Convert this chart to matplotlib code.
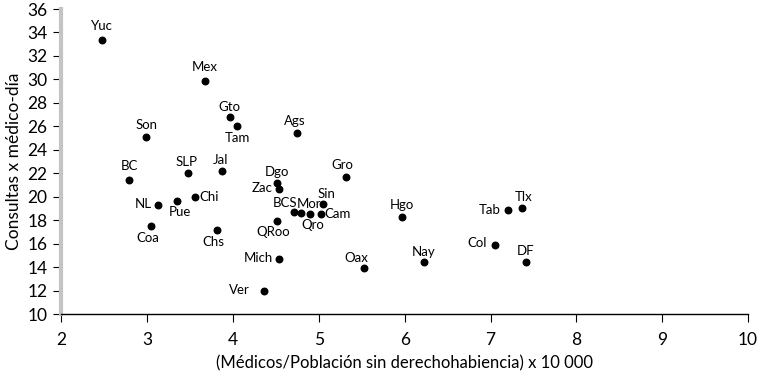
import matplotlib.pyplot as plt

plt.rcParams['font.family'] = ['Lato', 'DejaVu Sans']

# estados
estados = ['Yuc', 'Mex', 'Gto', 'Tam', 'Son', 'Ags', 'BC', 'SLP', 'Jal', 'Chi',
           'Pue', 'NL', 'Coa', 'Chs', 'Dgo', 'Zac', 'BCS', 'Mor', 'Qro', 'Sin',
           'Cam', 'QRoo', 'Mich', 'Gro', 'Oax', 'Ver', 'Hgo', 'Tab', 'Tlx',
           'Col', 'Nay', 'DF']
medicos = [2.47, 3.67, 3.96, 4.04, 2.99, 4.75, 2.79, 3.48, 3.87, 3.55,
           3.35, 3.12, 3.04, 3.81, 4.51, 4.54, 4.71, 4.79, 4.90, 5.05,
           5.03, 4.51, 4.54, 5.31, 5.52, 4.36, 5.97, 7.20, 7.37,
           7.05, 6.22, 7.41]
consultas = [33.4, 29.9, 26.8, 26.0, 25.1, 25.4, 21.45, 22.0, 22.15, 20.0,
             19.65, 19.3, 17.5, 17.15, 21.15, 20.65, 18.7, 18.65, 18.5, 19.35,
             18.5, 17.95, 14.7, 21.7, 13.95, 11.95, 18.3, 18.85, 19.05,
             15.9, 14.4, 14.4]

# posición de la etiqueta (dx, dy en pixeles, alineación)
pos = {
    'Yuc': (0, 14, 'center'), 'Mex': (0, 14, 'center'), 'Gto': (0, 10, 'center'),
    'Tam': (1, -12, 'center'), 'Son': (0, 12, 'center'), 'Ags': (-3, 12, 'center'),
    'BC': (0, 14, 'center'), 'SLP': (-2, 11, 'center'), 'Jal': (-1, 11, 'center'),
    'Chi': (5, 0, 'left'), 'Pue': (3, -11, 'center'), 'NL': (-6, 1, 'right'),
    'Coa': (-3, -12, 'center'), 'Chs': (-3, -12, 'center'), 'Dgo': (0, 11, 'center'),
    'Zac': (-7, 1, 'right'), 'BCS': (-9, 9, 'center'), 'Mor': (8, 9, 'center'),
    'Qro': (2, -11, 'center'), 'Sin': (3, 10, 'center'), 'Cam': (3, 0, 'left'),
    'QRoo': (-4, -11, 'center'), 'Mich': (-6, 1, 'right'), 'Gro': (-3, 12, 'center'),
    'Oax': (-7, 10, 'center'), 'Ver': (-14, 1, 'right'), 'Hgo': (0, 12, 'center'),
    'Tab': (-7, 0, 'right'), 'Tlx': (1, 11, 'center'), 'Col': (-8, 2, 'right'),
    'Nay': (0, 10, 'center'), 'DF': (0, 11, 'center'),
}

fig = plt.figure(figsize=(7.63, 3.74), dpi=100)
ax = fig.add_axes([0.0806, 0.1604, 0.8997, 0.8155])

ax.scatter(medicos, consultas, s=22, color='black', zorder=3)

for e, x, y in zip(estados, medicos, consultas):
    dx, dy, ha = pos[e]
    ax.annotate(e, (x, y), xytext=(dx, dy), textcoords='offset pixels',
                ha=ha, va='center', fontsize=9.5)

ax.set_xlim(2, 10)
ax.set_ylim(10, 36)
ax.set_xticks(range(2, 11))
ax.set_yticks(range(10, 37, 2))

for s in ['top', 'right']:
    ax.spines[s].set_visible(False)
ax.spines['left'].set_color('#c4c4c4')
ax.spines['left'].set_linewidth(3)
ax.spines['bottom'].set_color('black')
ax.spines['bottom'].set_linewidth(1)

ax.tick_params(axis='both', direction='out', length=6, width=0.8,
               color='black', labelsize=12.5)
ax.tick_params(axis='y', pad=4)
ax.tick_params(axis='x', pad=7)

ax.set_xlabel('(Médicos/Población sin derechohabiencia) x 10 000', fontsize=12,
              labelpad=5)
ax.set_ylabel('Consultas x médico-día', fontsize=12.5)

fig.savefig('out.png', dpi=100)
